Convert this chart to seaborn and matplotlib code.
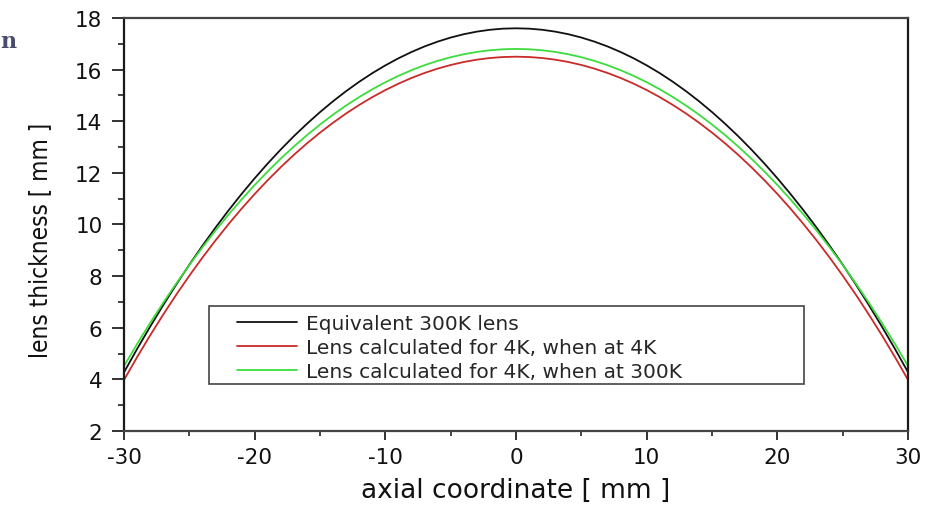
import matplotlib
matplotlib.use('Agg')
import matplotlib.pyplot as plt
from matplotlib.patches import Rectangle
from matplotlib.ticker import MultipleLocator
import pandas as pd
import seaborn as sns

# values (thickness in mm vs. radial distance in mm)
# the lens profiles are symmetric, so only one half is listed and mirrored below
radius_mm = list(range(0, 31))

thick_equiv_300K_half = [17.600, 17.586, 17.543, 17.471, 17.371, 17.242, 17.084, 16.898,
                         16.682, 16.438, 16.164, 15.862, 15.529, 15.167, 14.776, 14.354,
                         13.902, 13.421, 12.908, 12.365, 11.790, 11.185, 10.548, 9.879,
                         9.177, 8.444, 7.677, 6.878, 6.044, 5.178, 4.276]
thick_4K_at_4K_half = [16.500, 16.487, 16.449, 16.385, 16.295, 16.179, 16.038, 15.870,
                       15.676, 15.455, 15.208, 14.933, 14.631, 14.302, 13.944, 13.558,
                       13.142, 12.698, 12.223, 11.718, 11.182, 10.615, 10.015, 9.383,
                       8.718, 8.018, 7.283, 6.512, 5.706, 4.862, 3.980]
thick_4K_at_300K_half = [16.800, 16.787, 16.749, 16.685, 16.595, 16.479, 16.338, 16.171,
                         15.977, 15.757, 15.511, 15.237, 14.937, 14.610, 14.255, 13.872,
                         13.462, 13.022, 12.554, 12.057, 11.530, 10.972, 10.385, 9.766,
                         9.115, 8.433, 7.718, 6.969, 6.187, 5.370, 4.519]

series_names = ['Equivalent 300K lens',
                'Lens calculated for 4K, when at 4K',
                'Lens calculated for 4K, when at 300K']
series_colors = ['#111111', '#c92a2a', '#3ddc3d']

# full axial coordinate from -30 to 30 mm
axial_mm = [-r for r in radius_mm[::-1]] + radius_mm[1:]

frames = []
for name, half in zip(series_names, [thick_equiv_300K_half, thick_4K_at_4K_half, thick_4K_at_300K_half]):
    full = half[::-1] + half[1:]
    frames.append(pd.DataFrame({'axial': axial_mm, 'thickness': full, 'series': name}))
data = pd.concat(frames, ignore_index=True)

sns.set_theme(style='white')
plt.rcParams['font.family'] = ['DejaVu Sans']
plt.rcParams['axes.unicode_minus'] = False

fig = plt.figure(figsize=(9.41, 5.06), dpi=100)
ax = fig.add_axes([0.1318, 0.1462, 0.8332, 0.8163])

sns.lineplot(data=data, x='axial', y='thickness', hue='series', hue_order=series_names,
             palette=dict(zip(series_names, series_colors)), linewidth=1.3,
             legend=False, ax=ax)

ax.set_xlim(-30, 30)
ax.set_ylim(2, 18)
ax.set_xticks(range(-30, 31, 10))
ax.set_yticks(range(2, 19, 2))
ax.xaxis.set_minor_locator(MultipleLocator(5))
ax.yaxis.set_minor_locator(MultipleLocator(1))

ax.tick_params(axis='x', which='major', direction='out', length=6.5, width=1.3,
               color='#222222', labelsize=15.5, pad=5, bottom=True, labelcolor='#111111')
ax.tick_params(axis='x', which='minor', direction='out', length=3.6, width=1.2,
               color='#222222', bottom=True)
ax.tick_params(axis='y', which='major', direction='out', length=8.5, width=1.3,
               color='#222222', labelsize=15.5, pad=7, left=True, labelcolor='#111111')
ax.tick_params(axis='y', which='minor', direction='out', length=4.3, width=1.2,
               color='#222222', left=True)

for side in ['left', 'right']:
    ax.spines[side].set_color('#1a1a1a')
    ax.spines[side].set_linewidth(1.6)
for side in ['top', 'bottom']:
    ax.spines[side].set_color('#444444')
    ax.spines[side].set_linewidth(1.6)

ax.set_xlabel('axial coordinate [ mm ]', fontsize=19, color='#111111')
ax.xaxis.set_label_coords(0.5, -0.11)
ax.set_ylabel('lens thickness [ mm ]', fontsize=17.5, color='#111111',
              family=['Liberation Sans Narrow', 'DejaVu Sans'], fontstretch='condensed')
ax.yaxis.set_label_coords(-0.092, 0.465)

# legend entries without frame, the wide box is drawn separately like in the original
ax.legend(handles=ax.get_lines()[:3], labels=series_names, loc='center left',
          bbox_to_anchor=(0.144, 0.2027), frameon=False, borderpad=0, borderaxespad=0,
          handlelength=3.0, handletextpad=0.45, labelspacing=0.25, fontsize=14.5)
ax.add_patch(Rectangle((0.1084, 0.1138), 0.7586, 0.1889, transform=ax.transAxes,
                       fill=False, edgecolor='#444444', linewidth=1.2, zorder=3))

# stray glyph from the surrounding document at the left edge
fig.text(0.0005, 0.917, 'n', ha='left', va='center', fontsize=16, fontweight='bold',
         family='DejaVu Serif', color='#4b4b6e')

fig.savefig('out.png', dpi=100)
